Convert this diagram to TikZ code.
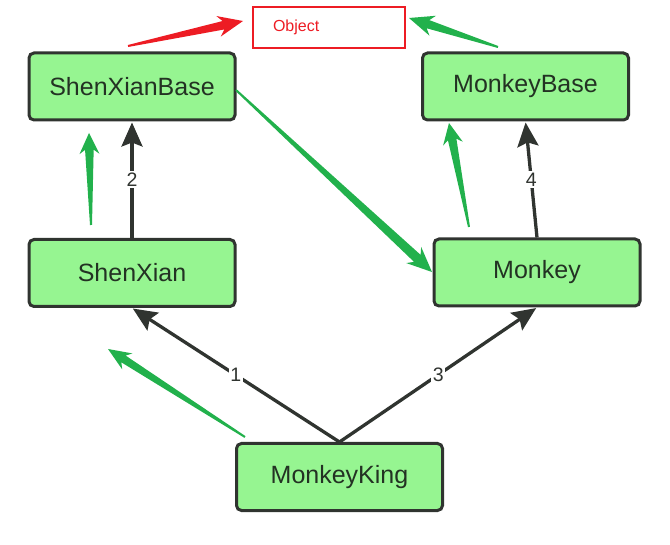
\documentclass[tikz,border=0pt]{standalone}
\usepackage{fontspec}
\setmainfont{Liberation Sans}
\usetikzlibrary{calc,arrows.meta}
\definecolor{boxfill}{RGB}{150,245,145}
\definecolor{boxline}{RGB}{48,52,48}
\definecolor{boxtext}{RGB}{35,50,35}
\definecolor{mkgreen}{RGB}{34,177,76}
\definecolor{mkred}{RGB}{237,28,36}
% color, tail, tip, head length, head half width, neck half width
\newcommand\taperarrow[6]{%
  \coordinate (taB) at ($(#3)!#4pt!(#2)$);
  \coordinate (taN) at ($(#3)!0.8*#4pt!(#2)$);
  \fill[#1] ($(#2)!1pt!90:(#3)$) -- ($(taN)!#6pt!90:(#3)$) -- ($(taB)!#5pt!90:(#3)$) -- (#3)
    -- ($(taB)!#5pt!-90:(#3)$) -- ($(taN)!#6pt!-90:(#3)$) -- ($(#2)!1pt!-90:(#3)$) -- cycle;
}
\tikzset{
  cls/.style={draw=boxline, line width=3pt, fill=boxfill, rounded corners=5pt,
    minimum width=206pt, minimum height=67pt, text=boxtext,
    font=\fontsize{25}{29}\selectfont},
  conn/.style={draw=boxline, line width=3.3pt, shorten >=1pt,
    -{Stealth[length=24pt,width=21pt,inset=4pt]}},
  lbl/.style={fill=white, inner sep=1.5pt, text=boxline, font=\fontsize{19.5}{20}\selectfont},
  objbox/.style={draw=mkred, line width=2pt, minimum height=41pt, text width=112pt,
    inner xsep=20pt, align=left, text=mkred, font=\fontsize{16}{18}\selectfont}
}
\begin{document}
\begin{tikzpicture}[x=1pt,y=-1pt]
\useasboundingbox (0,0) rectangle (670,545);
\node[cls] (sxb) at (132,86.5) {ShenXianBase};
\node[cls] (mb) at (525.5,86.5) {MonkeyBase};
\node[cls] (sx) at (132,273) {ShenXian};
\node[cls] (m) at (537,272.5) {Monkey};
\node[cls] (mk) at (339.5,477) {MonkeyKing};
\node[objbox] (obj) at (329,27.5) {Object};

\draw[conn] (sx.north) -- node[lbl]{2} (sxb.south);
\draw[conn] (m.north) -- node[lbl]{4} (mb.south);
\draw[conn] (mk.north) -- node[lbl]{1} (sx.south);
\draw[conn] (mk.north) -- node[lbl]{3} (m.south);

\coordinate (g1t) at (91,225);  \coordinate (g1h) at (89,133);
\coordinate (g2t) at (469,227); \coordinate (g2h) at (449,123);
\coordinate (g3t) at (236,90);  \coordinate (g3h) at (432,272);
\coordinate (g4t) at (245,437); \coordinate (g4h) at (108,349);
\coordinate (g5t) at (498,47);  \coordinate (g5h) at (409,18);
\coordinate (r1t) at (128,46);  \coordinate (r1h) at (243,21);

\taperarrow{mkgreen}{g1t}{g1h}{21}{10}{4.3}
\taperarrow{mkgreen}{g2t}{g2h}{21}{10}{4.3}
\taperarrow{mkgreen}{g3t}{g3h}{25}{11}{4.8}
\taperarrow{mkgreen}{g4t}{g4h}{23}{9.5}{4}
\taperarrow{mkgreen}{g5t}{g5h}{25}{10.5}{4.3}
\taperarrow{mkred}{r1t}{r1h}{25}{10.5}{4.3}
\end{tikzpicture}
\end{document}
